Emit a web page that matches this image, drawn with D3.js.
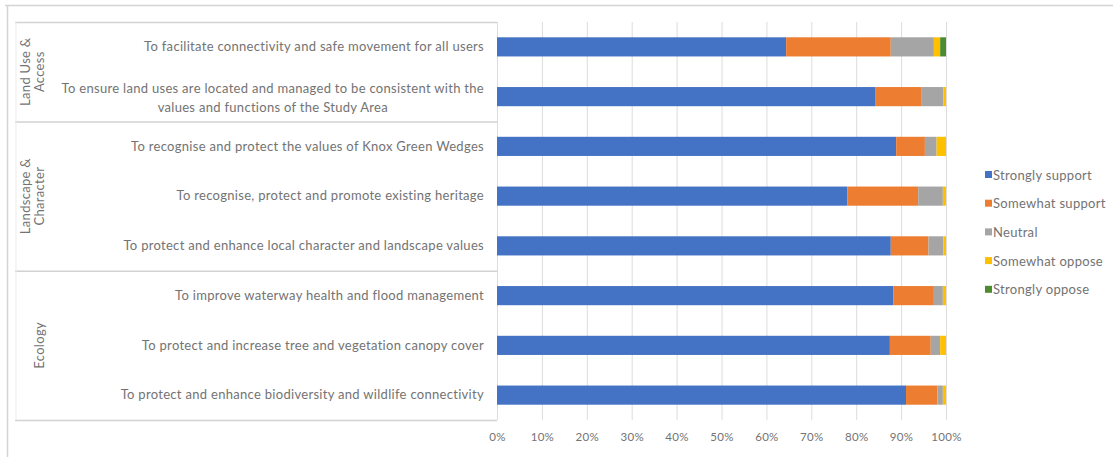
<!DOCTYPE html>
<html>
<head>
<meta charset="utf-8">
<script src="https://cdn.jsdelivr.net/npm/d3@7"></script>
<style>
  body { margin: 0; background: #fff; }
  text { font-family: Lato, "Open Sans", sans-serif; }
</style>
</head>
<body>
<div id="chart"></div>
<script>
// Data
const categories = [
  "To facilitate connectivity and safe movement for all users",
  "To ensure land uses are located and managed to be consistent with the\nvalues and functions of the Study Area",
  "To recognise and protect the values of Knox Green Wedges",
  "To recognise, protect and promote existing heritage",
  "To protect and enhance local character and landscape values",
  "To improve waterway health and flood management",
  "To protect and increase tree and vegetation canopy cover",
  "To protect and enhance biodiversity and wildlife connectivity"
];
const seriesNames = ["Strongly support", "Somewhat support", "Neutral", "Somewhat oppose", "Strongly oppose"];
const stronglySupport = [64.4, 84.2, 88.9, 78.0, 87.7, 88.3, 87.5, 91.1];
const somewhatSupport = [23.3, 10.4, 6.4, 15.8, 8.4, 9.0, 9.1, 7.0];
const neutral         = [9.6, 4.8, 2.6, 5.5, 3.3, 2.0, 2.1, 1.2];
const somewhatOppose  = [1.4, 0.6, 2.1, 0.7, 0.6, 0.7, 1.3, 0.7];
const stronglyOppose  = [1.3, 0, 0, 0, 0, 0, 0, 0];
const groupNames = [["Land Use &", "Access"], ["Landscape &", "Character"], ["Ecology"]];
const groupSizes = [2, 3, 3];
const xTicks = [0, 0.1, 0.2, 0.3, 0.4, 0.5, 0.6, 0.7, 0.8, 0.9, 1];

const colors = ["#4472C4", "#ED7D31", "#A5A5A5", "#FFC000", "#4E8A2E"];
const textColor = "#737373";
const fontSize = "13px";
const spacing = "0.3px";

const W = 1113, H = 457;
const plot = { left: 497, right: 946, top: 22, bottom: 420 };

const svg = d3.select("#chart").append("svg")
  .attr("width", W).attr("height", H);

svg.append("rect").attr("width", W).attr("height", H).attr("fill", "#fff");

// outer frame (top + left only)
svg.append("line").attr("x1", 5).attr("x2", W).attr("y1", 5.5).attr("y2", 5.5)
  .attr("stroke", "#d4d4d4").attr("stroke-width", 1.5);
svg.append("line").attr("x1", 7.5).attr("x2", 7.5).attr("y1", 5).attr("y2", H)
  .attr("stroke", "#d4d4d4").attr("stroke-width", 1.5);

const rows = categories.map((c, i) => ({
  cat: c,
  vals: [stronglySupport[i], somewhatSupport[i], neutral[i], somewhatOppose[i], stronglyOppose[i]]
}));

const x = d3.scaleLinear().domain([0, 1]).range([plot.left, plot.right]);
const y = d3.scaleBand().domain(categories).range([plot.top, plot.bottom])
  .paddingInner(0.615).paddingOuter(0.3075);

// Grid
svg.append("g")
  .attr("transform", `translate(0,${plot.bottom})`)
  .call(d3.axisBottom(x).tickValues(xTicks).tickSize(-(plot.bottom - plot.top)).tickFormat(""))
  .call(g => g.select(".domain").remove())
  .call(g => g.selectAll(".tick line").attr("stroke", "#dcdcdc"));

// Bars
const stack = d3.stack().keys(d3.range(5)).value((d, k) => d.vals[k] / 100);
const layers = stack(rows);
svg.append("g").selectAll("g")
  .data(layers)
  .join("g")
  .attr("fill", (d, i) => colors[i])
  .selectAll("rect")
  .data(d => d)
  .join("rect")
  .attr("x", d => x(d[0]))
  .attr("width", d => Math.max(0, x(d[1]) - x(d[0])))
  .attr("y", d => y(d.data.cat))
  .attr("height", y.bandwidth());

// X axis labels
svg.append("g")
  .attr("transform", `translate(0,${plot.bottom})`)
  .call(d3.axisBottom(x).tickValues(xTicks).tickSize(0).tickPadding(13).tickFormat(d3.format(".0%")))
  .call(g => g.select(".domain").remove())
  .call(g => g.selectAll("text").attr("fill", textColor).style("font-size", "11.5px")
    .style("letter-spacing", spacing).style("font-family", "Lato, sans-serif"));

// Category labels
const gy = svg.append("g")
  .attr("transform", `translate(${plot.left},0)`)
  .call(d3.axisLeft(y).tickSize(0).tickPadding(13))
  .call(g => g.select(".domain").remove());

gy.selectAll(".tick text").each(function(d) {
  const t = d3.select(this);
  const lines = d.split("\n");
  t.text(null).attr("fill", textColor).style("font-size", fontSize)
    .style("letter-spacing", spacing).style("font-family", "Lato, sans-serif");
  if (lines.length === 1) { t.text(d); return; }
  const first = t.append("tspan").text(lines[0]);
  const w = first.node().getComputedTextLength();
  const cx = -13 - w / 2;
  t.attr("text-anchor", "middle").attr("dy", null);
  first.attr("x", cx).attr("dy", "-0.25em");
  lines.slice(1).forEach(l => {
    t.append("tspan").attr("x", cx).attr("dy", "1.4em").text(l);
  });
});

// Group separators and labels
let start = 0;
const step = y.step();
const bounds = [plot.top];
groupSizes.forEach(n => { start += n; bounds.push(plot.top + start * step); });

svg.append("g").selectAll("line")
  .data(bounds)
  .join("line")
  .attr("x1", 15).attr("x2", plot.left)
  .attr("y1", d => d + 0.5).attr("y2", d => d + 0.5)
  .attr("stroke", "#d2d2d2").attr("stroke-width", 1.5);

svg.append("line")
  .attr("x1", 16).attr("x2", 16).attr("y1", plot.top).attr("y2", plot.bottom)
  .attr("stroke", "#ececec");

svg.append("g").selectAll("text")
  .data(groupNames.map((g, i) => ({ lines: g, mid: (bounds[i] + bounds[i + 1]) / 2 })))
  .join("text")
  .attr("transform", d => `translate(0,${d.mid}) rotate(-90)`)
  .attr("text-anchor", "middle")
  .attr("fill", textColor)
  .style("font-size", fontSize)
  .style("letter-spacing", spacing)
  .each(function(d) {
    const t = d3.select(this);
    const n = d.lines.length;
    d.lines.forEach((l, i) => {
      // last line sits at x≈39, earlier lines step left
      t.append("tspan").attr("x", 0).attr("y", 44 - (n - 1 - i) * 14).text(l);
    });
  });

// Legend
const legend = svg.append("g").attr("transform", "translate(985,175)");
const li = legend.selectAll("g")
  .data(seriesNames)
  .join("g")
  .attr("transform", (d, i) => `translate(0,${i * 28.7})`);
li.append("rect").attr("x", 0).attr("y", -4).attr("width", 7).attr("height", 7)
  .attr("fill", (d, i) => colors[i]);
li.append("text").attr("x", 8).attr("y", 0).attr("dy", "0.35em")
  .attr("fill", textColor).style("font-size", fontSize).style("letter-spacing", spacing)
  .text(d => d);
</script>
</body>
</html>
